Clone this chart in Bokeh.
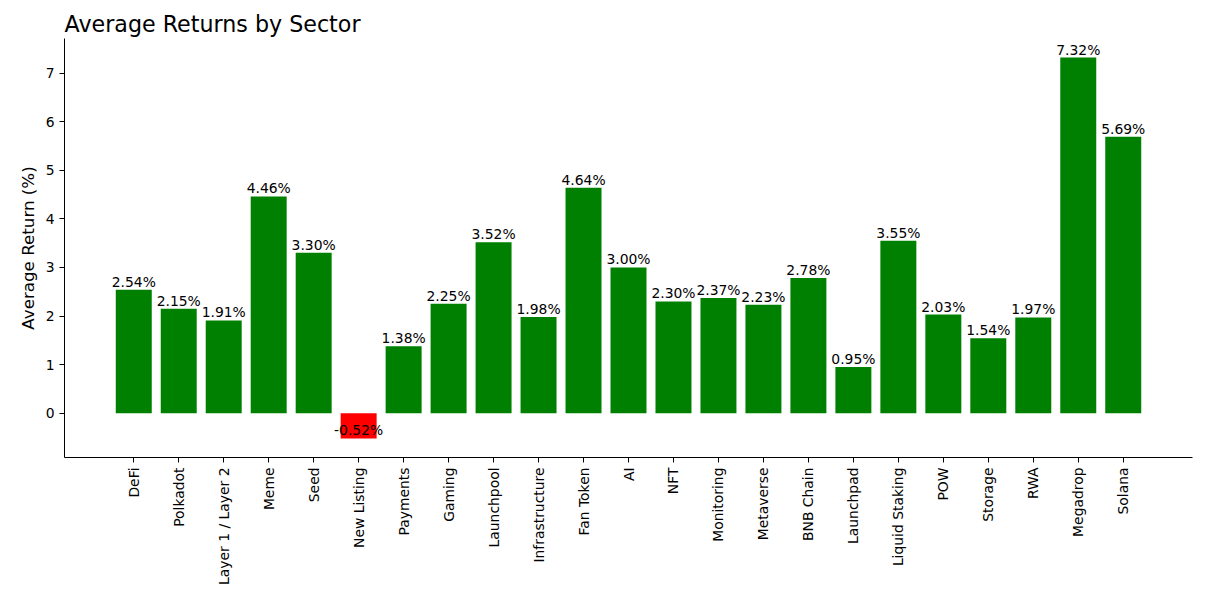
import math
from bokeh.plotting import figure
from bokeh.models import ColumnDataSource, FactorRange, Range1d, FixedTicker
from bokeh.embed import file_html
from bokeh.resources import INLINE

sectors = ["DeFi", "Polkadot", "Layer 1 / Layer 2", "Meme", "Seed", "New Listing",
           "Payments", "Gaming", "Launchpool", "Infrastructure", "Fan Token", "AI",
           "NFT", "Monitoring", "Metaverse", "BNB Chain", "Launchpad", "Liquid Staking",
           "POW", "Storage", "RWA", "Megadrop", "Solana"]
returns = [2.54, 2.15, 1.91, 4.46, 3.30, -0.52, 1.38, 2.25, 3.52, 1.98, 4.64, 3.00,
           2.30, 2.37, 2.23, 2.78, 0.95, 3.55, 2.03, 1.54, 1.97, 7.32, 5.69]
y_ticks = [0, 1, 2, 3, 4, 5, 6, 7]

colors = ["green" if v >= 0 else "red" for v in returns]
labels = [f"{v:.2f}%" for v in returns]
src = ColumnDataSource(dict(x=sectors, top=returns, color=colors, label=labels))

span = max(returns) - min(returns)
y0 = min(returns) - 0.05 * span
y1 = max(returns) + 0.05 * span

FONT = "DejaVu Sans"

p = figure(x_range=FactorRange(*sectors, range_padding=1.04, range_padding_units="absolute"),
           y_range=Range1d(y0, y1),
           frame_width=1128, frame_height=419,
           min_border_left=64, min_border_right=6, min_border_bottom=10, min_border_top=38,
           output_backend="svg", toolbar_location=None,
           title="Average Returns by Sector")

p.vbar(x="x", top="top", bottom=0, width=0.8, fill_color="color", line_color=None, source=src)
p.text(x="x", y="top", text="label", source=src, text_align="center",
       text_baseline="bottom", text_font_size="13.9px", text_color="black",
       text_font={"value": FONT})

p.title.text_font = FONT
p.title.text_font_size = "22.2px"
p.title.text_font_style = "normal"
p.title.text_color = "black"
p.title.align = "left"
p.title.offset = 0
p.title.standoff = 4

p.outline_line_color = None
p.xgrid.grid_line_color = None
p.ygrid.grid_line_color = None

p.yaxis.ticker = FixedTicker(ticks=y_ticks)
p.yaxis.axis_label = "Average Return (%)"
p.yaxis.axis_label_text_font = FONT
p.yaxis.axis_label_text_font_size = "16.7px"
p.yaxis.axis_label_text_font_style = "normal"
p.yaxis.axis_label_text_color = "black"
p.yaxis.minor_tick_line_color = None

for ax in (p.xaxis[0], p.yaxis[0]):
    ax.major_label_text_font = FONT
    ax.major_label_text_font_size = "13.9px"
    ax.major_label_text_color = "black"
    ax.axis_line_color = "black"
    ax.major_tick_line_color = "black"
    ax.major_tick_in = 0
    ax.major_tick_out = 5

p.xaxis.major_label_orientation = math.pi / 2

open("out.html", "w").write(file_html(p, INLINE))
